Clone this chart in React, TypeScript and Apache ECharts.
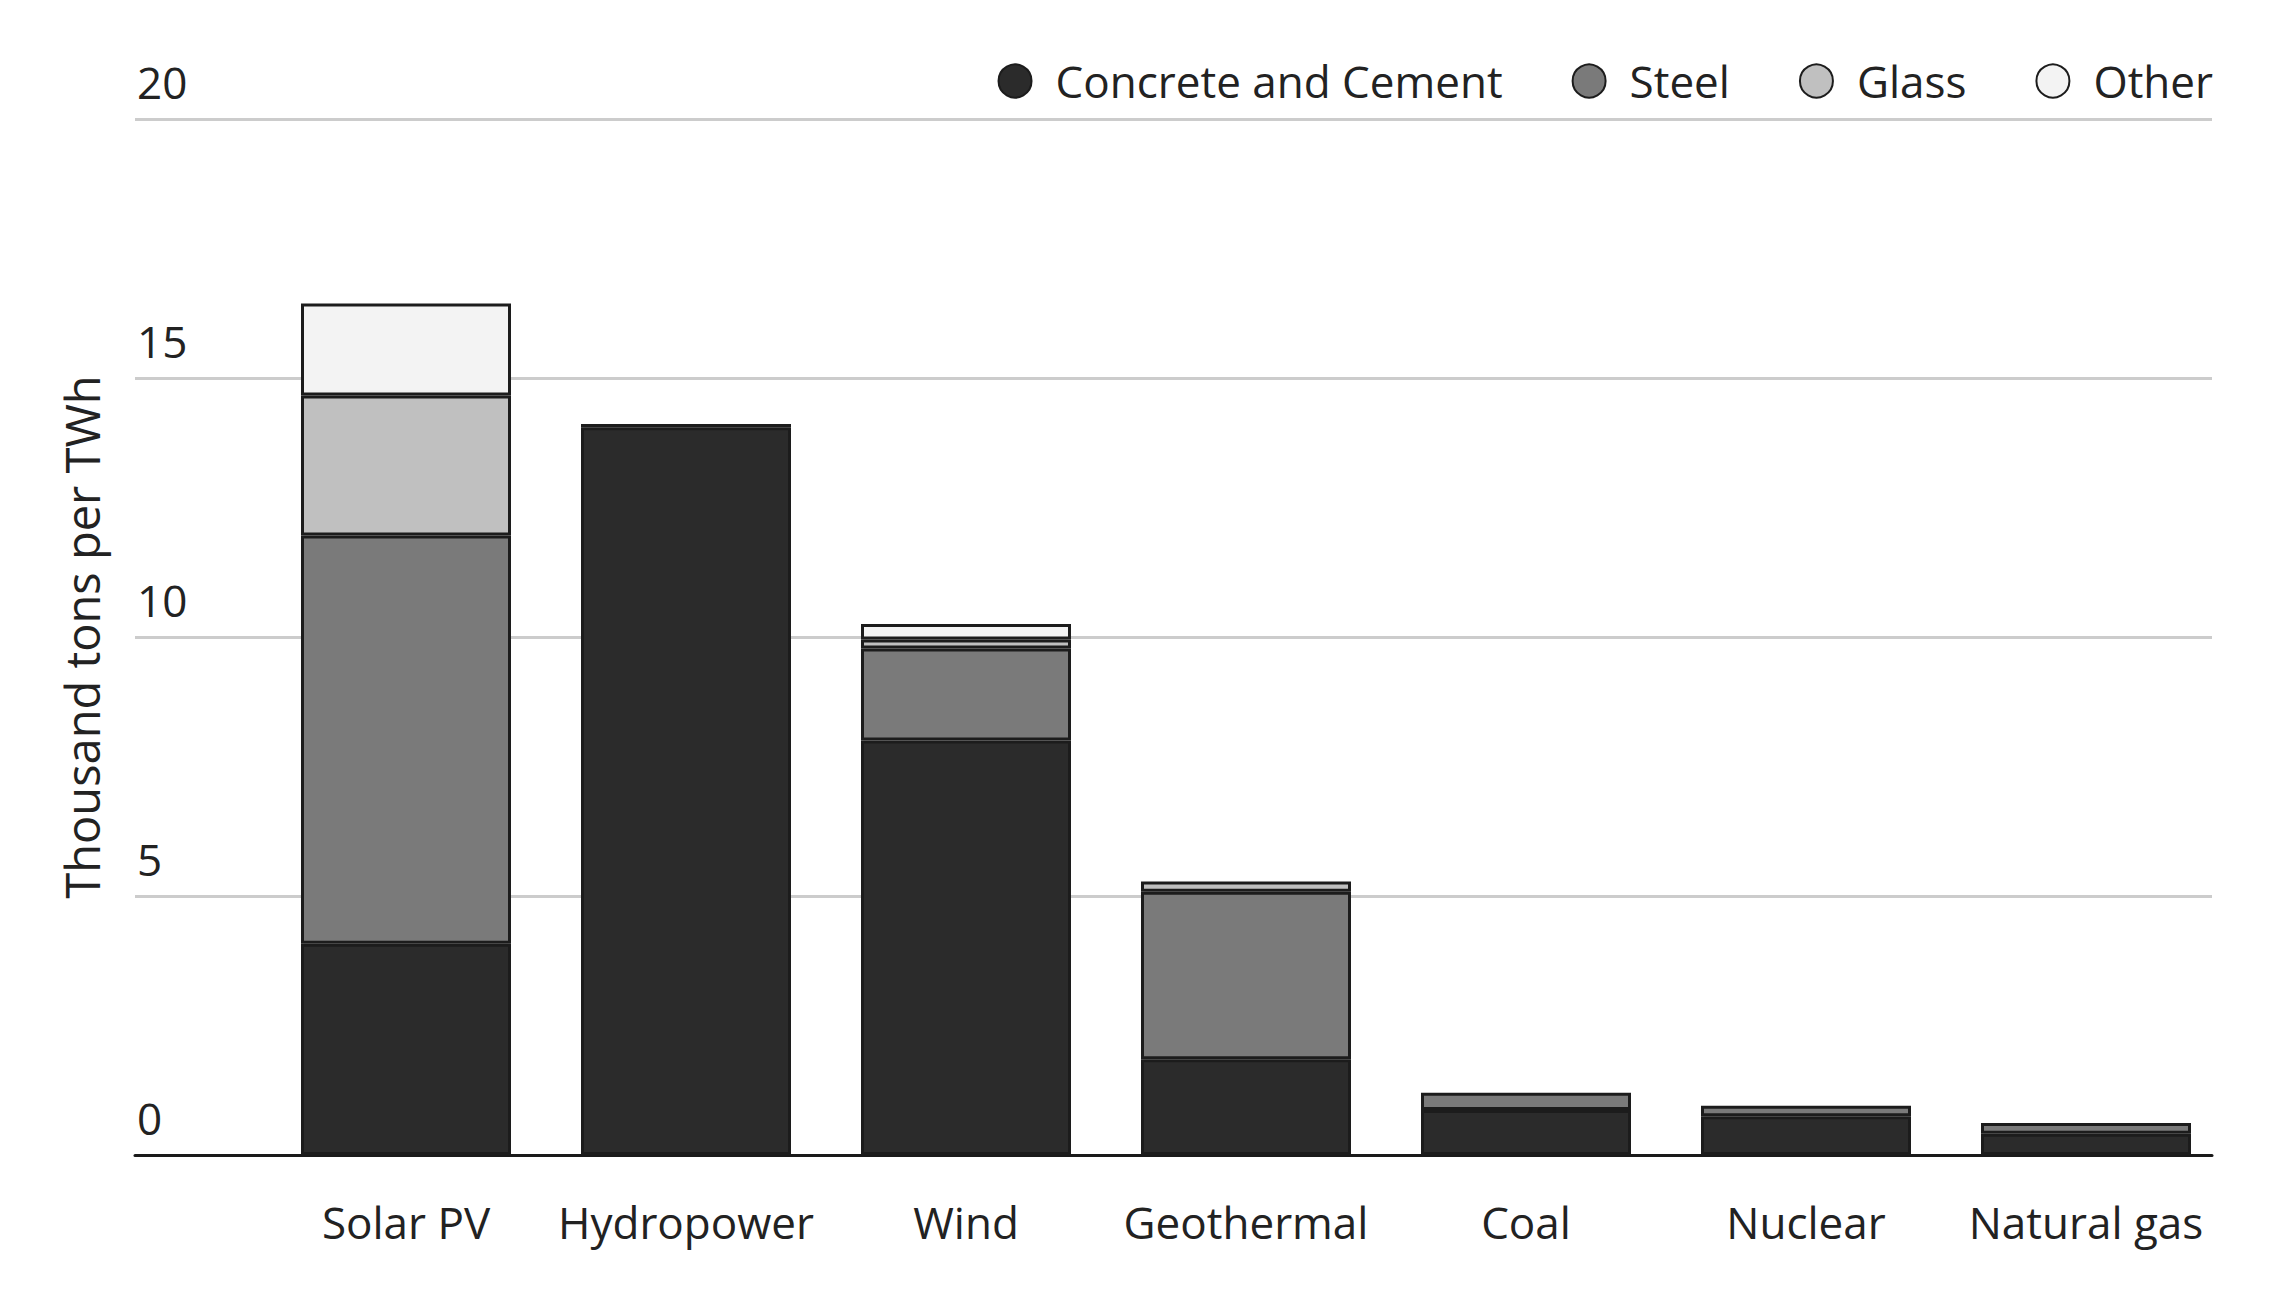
import React, { useEffect, useRef } from 'react'
import * as echarts from 'echarts'

const categories = ['Solar PV', 'Hydropower', 'Wind', 'Geothermal', 'Coal', 'Nuclear', 'Natural gas']
const seriesNames = ['Concrete and Cement', 'Steel', 'Glass', 'Other']

// thousand tons per TWh
const concrete = [4.08, 14.05, 8.0, 1.85, 0.87, 0.75, 0.41]
const steel = [7.88, 0.06, 1.78, 3.23, 0.33, 0.2, 0.21]
const glass = [2.7, 0, 0.17, 0.2, 0, 0, 0]
const other = [1.78, 0, 0.3, 0, 0, 0, 0]

const colors = ['#2b2b2b', '#7a7a7a', '#c0c0c0', '#f3f3f3']

const App: React.FC = () => {
  const chartRef = useRef<HTMLDivElement>(null)

  useEffect(() => {
    if (!chartRef.current) return
    const chart = echarts.init(chartRef.current, null, { renderer: 'svg' })
    const font = 'Open Sans'
    const textColor = '#222'

    const makeSeries = (name: string, values: number[], color: string) => ({
      name,
      type: 'bar',
      stack: 'total',
      xAxisIndex: 0,
      yAxisIndex: 0,
      barWidth: 210,
      data: values.map(v => (v === 0 ? null : v)),
      itemStyle: { color, borderColor: '#1c1c1c', borderWidth: 3 },
      emphasis: { disabled: true },
      z: 3
    })

    const option: any = {
      animation: false,
      textStyle: { fontFamily: font },
      legend: {
        data: seriesNames,
        right: 66,
        top: 54,
        icon: 'circle',
        itemWidth: 33,
        itemHeight: 33,
        itemGap: 69,
        textStyle: { fontSize: 44, color: textColor, padding: [0, 0, 0, 19] }
      },
      grid: [
        { left: 266, right: 58, top: 119, bottom: 143 },
        { left: 135, right: 72, top: 119, bottom: 143 }
      ],
      xAxis: [
        {
          type: 'category',
          gridIndex: 0,
          data: categories,
          axisLine: { show: false },
          axisTick: { show: false },
          axisLabel: { fontSize: 44, color: textColor, margin: 45, interval: 0 }
        },
        {
          type: 'value',
          gridIndex: 1,
          min: 0,
          max: 1,
          axisLine: { show: true, lineStyle: { color: '#1a1a1a', width: 3 } },
          axisTick: { show: false },
          axisLabel: { show: false },
          splitLine: { show: false }
        }
      ],
      yAxis: [
        { type: 'value', gridIndex: 0, min: 0, max: 20, show: false },
        {
          type: 'value',
          gridIndex: 1,
          min: 0,
          max: 20,
          interval: 5,
          name: 'Thousand tons per TWh',
          nameLocation: 'middle',
          nameGap: 30,
          nameTextStyle: { fontSize: 47, color: textColor },
          axisLine: { show: false },
          axisTick: { show: false },
          axisLabel: {
            inside: true,
            margin: 2,
            fontSize: 44,
            color: textColor,
            verticalAlign: 'bottom',
            padding: [0, 0, 15, 0]
          },
          splitLine: { lineStyle: { color: '#cccccc', width: 3 } }
        }
      ],
      series: [
        makeSeries(seriesNames[0], concrete, colors[0]),
        makeSeries(seriesNames[1], steel, colors[1]),
        makeSeries(seriesNames[2], glass, colors[2]),
        makeSeries(seriesNames[3], other, colors[3])
      ]
    }

    chart.setOption(option)
    return () => {
      chart.dispose()
    }
  }, [])

  return (
    <div
      ref={chartRef}
      style={{ position: 'fixed', left: 0, top: 0, width: 2284, height: 1298, background: '#fff' }}
    />
  )
}

export default App
